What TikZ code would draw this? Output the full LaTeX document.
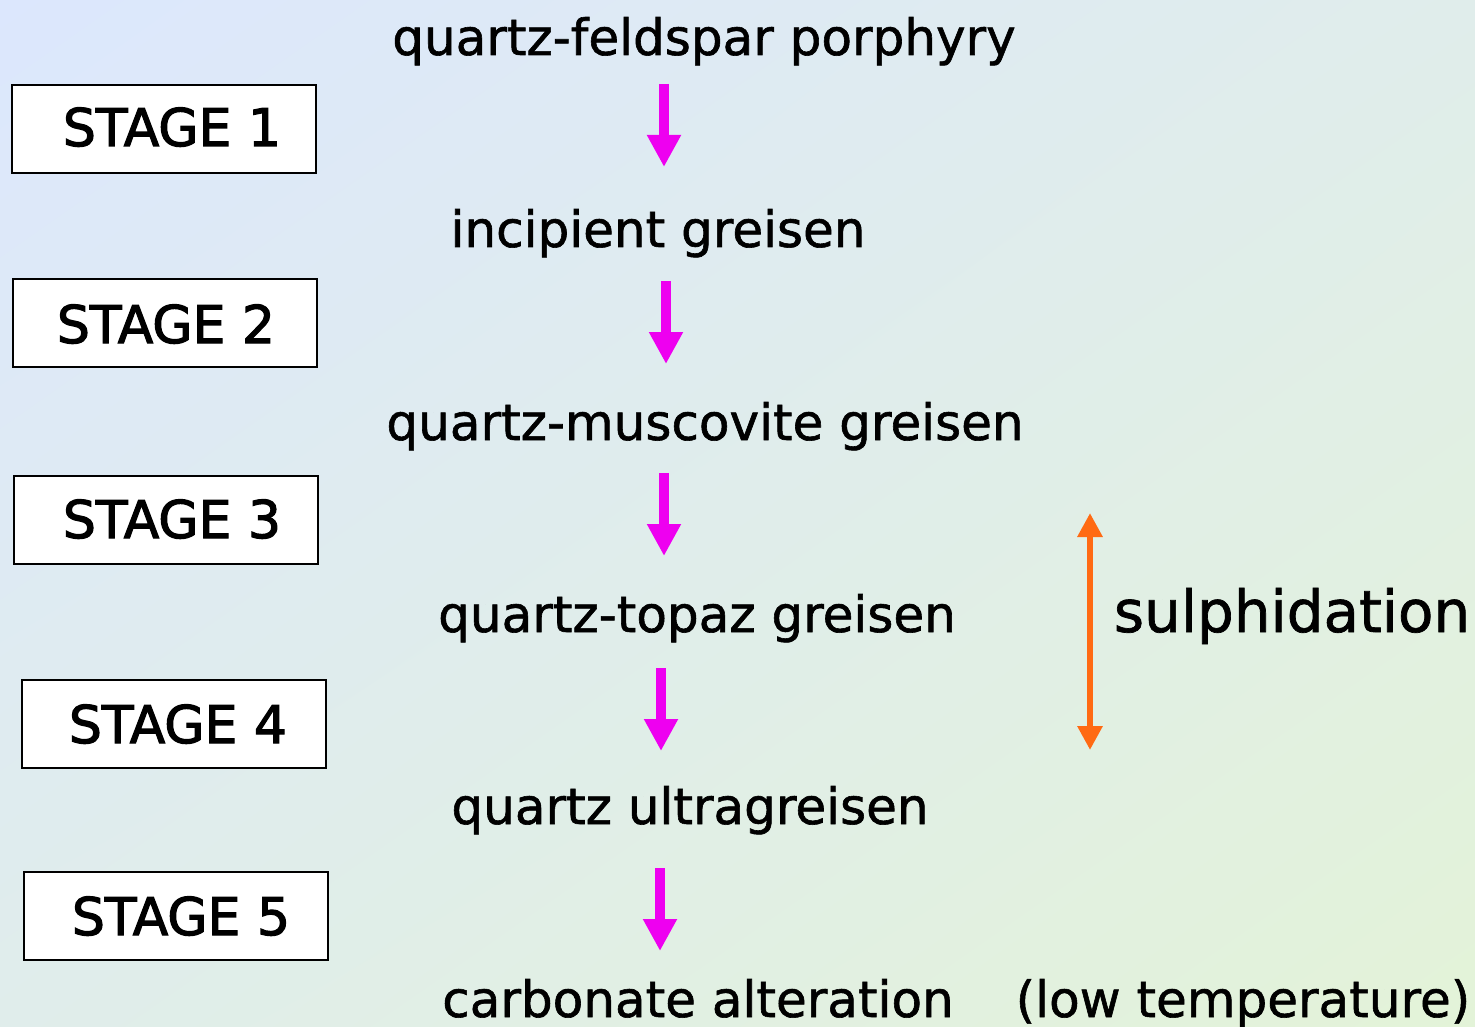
\documentclass[tikz,border=0pt]{standalone}
\usepackage{fontspec}
\setmainfont{DejaVu Sans}[FakeBold=1]
\newfontfamily\stagefont{DejaVu Sans}[FakeBold=2.2]
\newfontfamily\minfont{DejaVu Sans}[FakeBold=1.2]
\usetikzlibrary{arrows.meta,shadings}
\definecolor{bgTL}{HTML}{DCE7FD}
\definecolor{bgBR}{HTML}{E3F3D8}
\definecolor{bgMid}{HTML}{E0EDEB}
\definecolor{magarrow}{RGB}{238,0,240}
\definecolor{orgarrow}{RGB}{255,106,19}
\begin{document}
\begin{tikzpicture}[x=1pt,y=-1pt,
  stagebox/.style={draw=black,line width=2pt,fill=white,minimum width=304pt,minimum height=88pt,anchor=north west,inner sep=0pt},
  stagetxt/.style={font=\stagefont\fontsize{52}{60}\selectfont,anchor=base,inner sep=0pt},
  mintxt/.style={font=\minfont\fontsize{50}{60}\selectfont,anchor=base,inner sep=0pt},
  stepflow/.style={draw=magarrow,line width=10pt,-{Triangle[width=32pt,length=32pt]}},
  sulphflow/.style={draw=orgarrow,line width=6pt,{Triangle[width=24pt,length=24pt]}-{Triangle[width=24pt,length=24pt]}}]
\shade[upper left=bgTL,lower right=bgBR,upper right=bgMid,lower left=bgMid] (0,0) rectangle (1475,1027);
\useasboundingbox (0,0) rectangle (1475,1027);
% stage boxes
\node[stagebox] (b1) at (11,84) {};
\node[stagebox] (b2) at (12,278) {};
\node[stagebox] (b3) at (13,475) {};
\node[stagebox] (b4) at (21,679) {};
\node[stagebox] (b5) at (23,871) {};
\node[stagetxt] (s1) at (172,146) {STAGE 1};
\node[stagetxt] (s2) at (166,343) {STAGE 2};
\node[stagetxt] (s3) at (172,538) {STAGE 3};
\node[stagetxt] (s4) at (178,743) {STAGE 4};
\node[stagetxt] (s5) at (181,935) {STAGE 5};
% mineral texts
\node[mintxt] (m1) at (704,55) {quartz-feldspar porphyry};
\node[mintxt] (m2) at (658,247) {incipient greisen};
\node[mintxt] (m3) at (705,440) {quartz-muscovite greisen};
\node[mintxt] (m4) at (697,632) {quartz-topaz greisen};
\node[mintxt] (m5) at (690,824) {quartz ultragreisen};
\node[mintxt] (m6) at (698,1017) {carbonate alteration};
\node[mintxt] (lt) at (1243,1017) {(low temperature)};
\node[font=\minfont\fontsize{58}{66}\selectfont,anchor=base,inner sep=0pt] (sul) at (1292,632) {sulphidation};
% arrow coordinates
\coordinate (a1s) at (664,84);  \coordinate (a1e) at (664,167);
\coordinate (a2s) at (666,281); \coordinate (a2e) at (666,364);
\coordinate (a3s) at (664,473); \coordinate (a3e) at (664,556);
\coordinate (a4s) at (661,668); \coordinate (a4e) at (661,751);
\coordinate (a5s) at (660,868); \coordinate (a5e) at (660,951);
\draw[stepflow] (a1s) -- (a1e);
\draw[stepflow] (a2s) -- (a2e);
\draw[stepflow] (a3s) -- (a3e);
\draw[stepflow] (a4s) -- (a4e);
\draw[stepflow] (a5s) -- (a5e);
\coordinate (o1) at (1090,513); \coordinate (o2) at (1090,750);
\draw[sulphflow] (o1) -- (o2);
\end{tikzpicture}
\end{document}
